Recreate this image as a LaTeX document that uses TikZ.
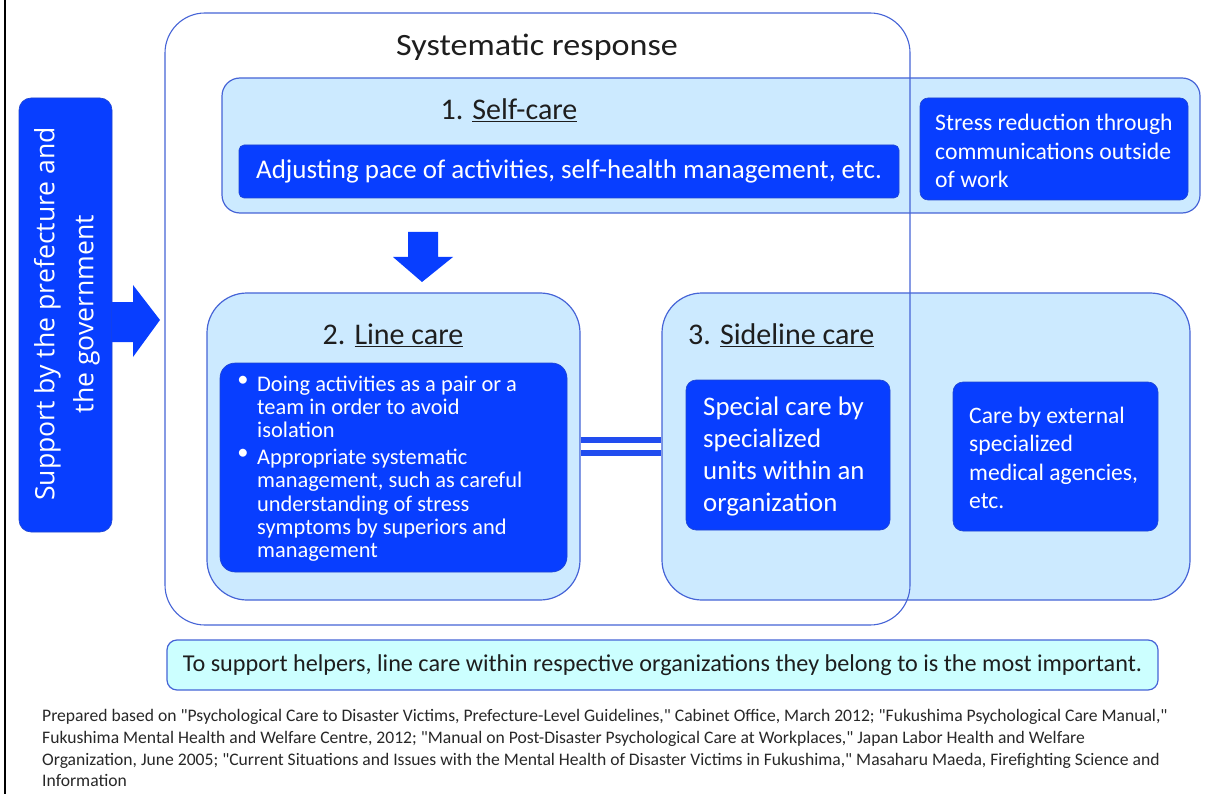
\documentclass[tikz,border=0pt]{standalone}
\usepackage{fontspec}
\setmainfont{Carlito}[Ligatures=TeXOff]
\newfontfamily\govfont{Open Sans}
\usetikzlibrary{positioning}
\definecolor{darkb}{RGB}{8,62,255}
\definecolor{lightb}{RGB}{204,234,255}
\definecolor{edgeb}{RGB}{70,100,215}
\definecolor{cyanb}{RGB}{204,255,255}
\definecolor{headtxt}{RGB}{30,30,30}
\definecolor{foottxt}{RGB}{40,40,40}
\tikzset{
  lightbox/.style={draw=edgeb, fill=lightb, line width=1.2pt, inner sep=0pt},
  darkbox/.style={draw=darkb!80!black!60!edgeb, fill=darkb, line width=0.6pt, inner sep=0pt, text=white},
  headtext/.style={text=headtxt, inner sep=0pt, font=\fontsize{30}{34}\selectfont},
  bluearrow/.style={fill=darkb, draw=none},
  whitetext/.style={text=white, align=left, inner sep=0pt},
}
\begin{document}
\begin{tikzpicture}[x=1pt,y=-1pt]
\useasboundingbox (0,0) rectangle (1215,794);
\fill[white] (0,0) rectangle (1215,794);
\draw[black, line width=2pt] (5,0) -- (5,794);

% left government box
\node[darkbox, rounded corners=12pt, minimum width=93pt, minimum height=434pt] (gov) at (65.5,315) {};
\node[rotate=90, text=white, align=center, font=\govfont\fontsize{26.6}{39}\selectfont, inner sep=0pt] (govtxt) at (67,314) {Support by the prefecture and\\the government};

% right arrow
\fill[bluearrow] (112,302) -- (133,302) -- (133,285) -- (160,320) -- (133,357) -- (133,342) -- (112,342) -- cycle;

% self-care
\node[lightbox, rounded corners=18pt, minimum width=978pt, minimum height=135pt] (self) at (711,145.5) {};
\node[headtext] (selft) at (509,110) {1. \underline{Self-care}};
\node[darkbox, rounded corners=5pt, minimum width=660pt, minimum height=53pt, font=\fontsize{27}{30}\selectfont] (adj) at (569,171.5) {Adjusting pace of activities, self-health management, etc.};
\node[darkbox, rounded corners=8pt, minimum width=268pt, minimum height=102pt] (stress) at (1054,149) {};
\node[whitetext, anchor=west, font=\fontsize{23.7}{28.5}\selectfont] (stresst) at (935,151) {Stress reduction through\\communications outside\\of work};

% down arrow
\fill[bluearrow] (408,232) -- (438,232) -- (438,257) -- (453,257) -- (422,282) -- (393,257) -- (408,257) -- cycle;

% line care
\node[lightbox, rounded corners=40pt, minimum width=373pt, minimum height=307pt] (line) at (393.5,446.5) {};
\node[headtext] (linet) at (393,335) {2. \underline{Line care}};
\node[darkbox, rounded corners=15pt, minimum width=347pt, minimum height=209pt] (bul) at (393.5,467.5) {};
\node[whitetext, anchor=north, font=\fontsize{22.4}{23}\selectfont] (b1) at (243,376) {\textbullet};
\node[whitetext, anchor=north west, font=\fontsize{22.4}{23}\selectfont] (i1) at (257,376) {Doing activities as a pair or a\\team in order to avoid\\isolation};
\node[whitetext, anchor=north, font=\fontsize{22.4}{23}\selectfont] (b2) at (243,449) {\textbullet};
\node[whitetext, anchor=north west, font=\fontsize{22.4}{23.2}\selectfont] (i2) at (257,449) {Appropriate systematic\\management, such as careful\\understanding of stress\\symptoms by superiors and\\management};

% sideline care
\node[lightbox, rounded corners=40pt, minimum width=528pt, minimum height=307pt] (side) at (926,446.5) {};
\node[headtext, anchor=west] (sidet) at (688,335) {3. \underline{Sideline care}};
\node[darkbox, rounded corners=10pt, minimum width=204pt, minimum height=150pt] (spec) at (788,455) {};
\node[whitetext, anchor=west, font=\fontsize{26.8}{32}\selectfont] (spect) at (703,456) {Special care by\\specialized\\units within an\\organization};
\node[darkbox, rounded corners=10pt, minimum width=205pt, minimum height=149pt] (ext) at (1055.5,456.5) {};
\node[whitetext, anchor=west, font=\fontsize{23.6}{28.5}\selectfont] (extt) at (969,458) {Care by external\\specialized\\medical agencies,\\etc.};

% double connector
\draw[edgeb!40!darkb, line width=6pt, double=white, double distance=7pt] (line.east) -- (side.west);

% systematic response outer frame (on top)
\node[draw=edgeb, line width=1.1pt, rounded corners=40pt, minimum width=745pt, minimum height=612pt, inner sep=0pt] (sys) at (537.5,319) {};
\node[text=headtxt, inner sep=0pt] (syst) at (537,47) {\scalebox{1.1}[1]{\fontsize{31}{34}\selectfont Systematic response}};

% message
\node[draw=edgeb, fill=cyanb, line width=1.2pt, rounded corners=10pt, minimum width=991pt, minimum height=50pt, inner sep=0pt, font=\fontsize{24.2}{28}\selectfont, text=headtxt] (msg) at (662.5,665) {To support helpers, line care within respective organizations they belong to is the most important.};

% footnote
\node[anchor=north west, align=left, inner sep=0pt, text=foottxt, font=\fontsize{17.6}{21.8}\selectfont] (foot) at (42,709) {Prepared based on "Psychological Care to Disaster Victims, Prefecture-Level Guidelines," Cabinet Office, March 2012; "Fukushima Psychological Care Manual,"\\
Fukushima Mental Health and Welfare Centre, 2012; "Manual on Post-Disaster Psychological Care at Workplaces," Japan Labor Health and Welfare\\
Organization, June 2005; "Current Situations and Issues with the Mental Health of Disaster Victims in Fukushima," Masaharu Maeda, Firefighting Science and\\
Information};
\end{tikzpicture}
\end{document}
